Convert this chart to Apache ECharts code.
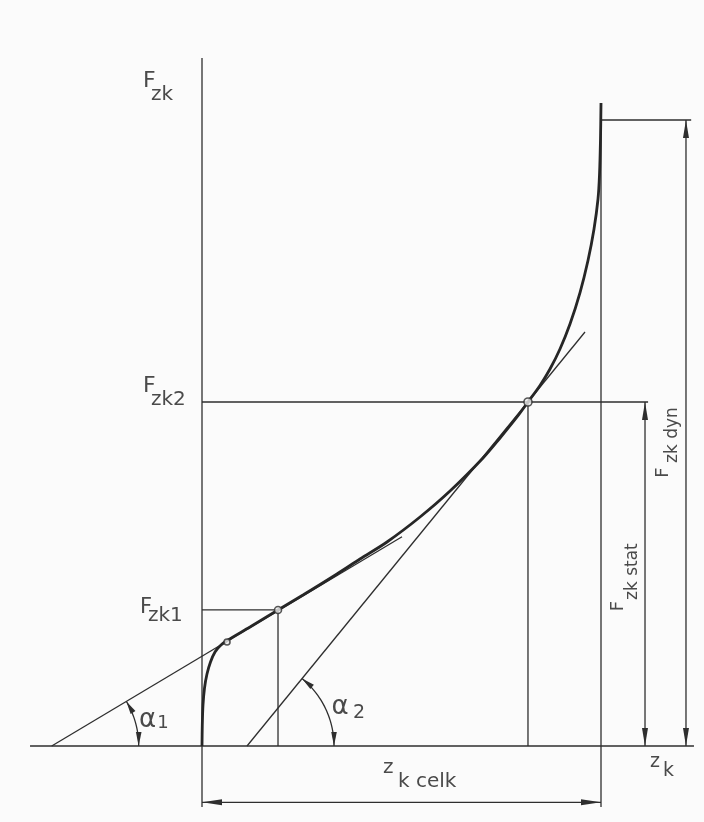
<!DOCTYPE html>
<html><head><meta charset="utf-8">
<script src="https://cdn.jsdelivr.net/npm/echarts@6/dist/echarts.min.js"></script>
<style>html,body{margin:0;padding:0;background:#fbfbfb}#c{width:704px;height:822px}</style>
</head><body><div id="c"></div>
<script>
// ---- data (z_k in % of z_k celk, F_zk in % of F_zk dyn) ----
const curveZ = [0, 0.075, 0.25, 0.63, 1.25, 2.13, 3.26, 4.76, 6.52, 12.03, 19.05, 25.31, 33.83, 39.6, 46.37, 54.64, 62.16, 70.43, 74.69, 78.95, 81.70, 84.71, 87.22, 89.72, 92.23, 94.74, 96.74, 98.25, 99.25, 99.62, 99.87, 100];
const curveF = [0, 3.35, 6.55, 9.27, 11.50, 13.42, 15.02, 16.13, 16.93, 19.01, 21.73, 24.12, 27.48, 29.87, 32.59, 36.58, 40.73, 46.01, 49.20, 52.56, 54.95, 57.59, 60.22, 63.42, 67.41, 72.44, 77.56, 82.59, 87.38, 91.21, 96.81, 102.72];
const pointFzk1 = [19.05, 21.73];
const pointFzk2 = [81.70, 54.95];
const pointJoin = [6.27, 16.61];
const tangent1 = [[-37.67, 0], [50.13, 33.43]];
const tangent2 = [[11.28, 0], [95.99, 66.13]];
const zCelk = 100;
const fDyn = 100;
const fStat = 54.95;

// ---- drawing geometry (extension / dimension lines) ----
const COL = '#2e2e2e';
const TXT = '#4a4a4a';
const FONT = 'DejaVu Sans';
const dimDynZ = 121.3, dimStatZ = 111.03, dimCelkF = -9.0;
const segs = [
  [[0, -9.74], [0, 109.9]],                 // F_zk axis
  [[zCelk, -9.74], [zCelk, 102.7]],         // z_k celk line
  [[-43.1, 0], [123.3, 0]],                 // z_k axis
  [[zCelk, fDyn], [122.6, fDyn]],           // top extension
  [[0, fStat], [111.8, fStat]],             // F_zk2 line
  [[0, pointFzk1[1]], pointFzk1],           // F_zk1 horizontal
  [pointFzk1, [pointFzk1[0], 0]],           // F_zk1 vertical
  [pointFzk2, [pointFzk2[0], 0]],           // F_zk2 vertical
  [[dimDynZ, 0], [dimDynZ, fDyn]],          // F_zk dyn dimension
  [[dimStatZ, 0], [dimStatZ, fStat]],       // F_zk stat dimension
  [[0, dimCelkF], [zCelk, dimCelkF]],       // z_k celk dimension
  tangent1, tangent2
];

const chart = echarts.init(document.getElementById('c'), null, {renderer: 'canvas'});
const series = segs.map(s => ({
  type: 'line', data: s, symbol: 'none', clip: false, silent: true,
  lineStyle: {color: COL, width: 1.3}, z: 2
}));
series.push({
  type: 'line', data: curveZ.map((z, i) => [z, curveF[i]]), symbol: 'none', clip: false,
  smooth: 0.3, silent: true, lineStyle: {color: '#262626', width: 2.8}, z: 3
});
series.push({
  type: 'scatter', data: [pointFzk1, pointFzk2, pointJoin], clip: false, silent: true,
  symbolSize: (v, p) => [7, 8, 6][p.dataIndex],
  itemStyle: {color: '#eeeeee', borderColor: COL, borderWidth: 1.6}, z: 5
});

// grid spans the whole canvas; z_k = 0..100 maps to 202..601 px, F_zk = 0..100 maps to 746..120 px
chart.setOption({
  animation: false,
  backgroundColor: '#fbfbfb',
  grid: {left: 0, right: 0, top: 0, bottom: 0, containLabel: false},
  xAxis: {type: 'value', min: -202 / 3.99, max: 502 / 3.99, show: false, scale: true},
  yAxis: {type: 'value', min: -76 / 6.26, max: 746 / 6.26, show: false, scale: true},
  series
});

const P = (z, f) => chart.convertToPixel({gridIndex: 0}, [z, f]);
function arrow(tip, dir, len, w) {
  const bx = tip[0] - dir[0] * len, by = tip[1] - dir[1] * len;
  const nx = -dir[1], ny = dir[0];
  return {type: 'polygon', silent: true, z: 10,
    shape: {points: [tip, [bx + nx * w, by + ny * w], [bx - nx * w, by - ny * w]]},
    style: {fill: COL}};
}
function arcWithArrows(tan) {
  const a = P(tan[0][0], tan[0][1]), b = P(tan[1][0], tan[1][1]);
  const th = Math.atan2(a[1] - b[1], b[0] - a[0]);
  const r = 87;
  const pts = [];
  for (let i = 0; i <= 30; i++) {
    const ang = th * i / 30;
    pts.push([a[0] + r * Math.cos(ang), a[1] - r * Math.sin(ang)]);
  }
  const els = [{type: 'polyline', silent: true, z: 10, shape: {points: pts},
    style: {stroke: COL, lineWidth: 1.3, fill: 'none'}}];
  els.push(arrow([a[0] + r, a[1]], [0, 1], 14, 2.8));
  els.push(arrow([a[0] + r * Math.cos(th), a[1] - r * Math.sin(th)], [-Math.sin(th), -Math.cos(th)], 13, 2.8));
  return els;
}
function txt(text, at, size, align, rot) {
  const p = P(at[0], at[1]);
  return {type: 'text', x: p[0], y: p[1], rotation: rot || 0, silent: true, z: 20,
    style: {text, fill: TXT, fontSize: size, fontFamily: FONT,
      align: align, textAlign: align, verticalAlign: 'middle', textVerticalAlign: 'middle'}};
}
const R = Math.PI / 2;
const graphic = [].concat(
  arcWithArrows(tangent1), arcWithArrows(tangent2),
  [
    arrow(P(dimDynZ, fDyn), [0, -1], 18, 3), arrow(P(dimDynZ, 0), [0, 1], 18, 3),
    arrow(P(dimStatZ, fStat), [0, -1], 18, 3), arrow(P(dimStatZ, 0), [0, 1], 18, 3),
    arrow(P(0, dimCelkF), [-1, 0], 20, 3), arrow(P(zCelk, dimCelkF), [1, 0], 20, 3),
    txt('F', [-14.79, 106.23], 22, 'left'),
    txt('zk', [-12.78, 104.0], 20, 'left'),
    txt('F', [-14.79, 57.51], 22, 'left'),
    txt('zk2', [-12.78, 55.27], 20, 'left'),
    txt('F', [-15.54, 22.12], 21, 'left'),
    txt('zk1', [-13.53, 20.85], 20, 'left'),
    txt('α', [-13.66, 4.15], 26, 'center'),
    txt('1', [-9.77, 3.63], 18, 'center'),
    txt('α', [34.59, 6.12], 26, 'center'),
    txt('2', [39.35, 5.27], 19, 'center'),
    txt('F', [104.26, 22.36], 18, 'center', R),
    txt('zk stat', [107.89, 23.32], 17, 'left', R),
    txt('F', [115.61, 43.69], 18, 'center', R),
    txt('zk dyn', [117.92, 45.21], 17, 'left', R),
    txt('z', [112.28, -2.64], 19, 'left'),
    txt('k', [115.54, -4.07], 19, 'left'),
    txt('z', [45.36, -3.43], 20, 'left'),
    txt('k celk', [49.12, -5.67], 20, 'left')
  ]
);
chart.setOption({graphic});
</script>
</body></html>
